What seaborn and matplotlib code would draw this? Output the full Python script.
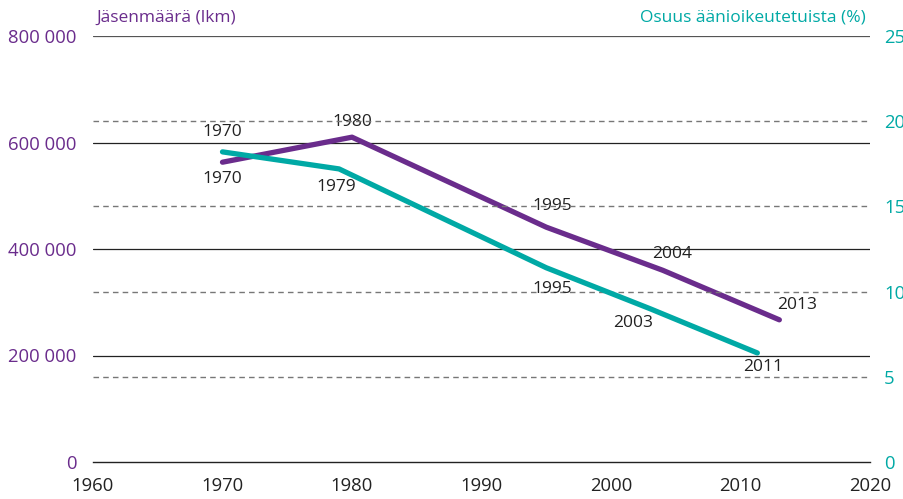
import seaborn as sns
import matplotlib.pyplot as plt
import pandas as pd

# Jäsenmäärä (lkm), vasen akseli
member_years = [1970, 1980, 1995, 2004, 2013]
members = [563000, 610000, 441000, 360000, 267000]
member_labels = ["1970", "1980", "1995", "2004", "2013"]

# Osuus äänioikeutetuista (%), oikea akseli
share_years = [1970, 1979, 1995, 2003, 2011.3]
share = [18.2, 17.2, 11.4, 9.0, 6.4]
share_labels = ["1970", "1979", "1995", "2003", "2011"]

left_ticks = [0, 200000, 400000, 600000, 800000]
left_ticklabels = ["0", "200 000", "400 000", "600 000", "800 000"]
right_ticks = [0, 5, 10, 15, 20, 25]
x_ticks = [1960, 1970, 1980, 1990, 2000, 2010, 2020]

purple = "#6a2c8c"
teal = "#00a9a5"

sns.set_style("white")
plt.rcParams["font.family"] = ["Open Sans", "DejaVu Sans"]

df_m = pd.DataFrame({"year": member_years, "value": members})
df_s = pd.DataFrame({"year": share_years, "value": share})

fig = plt.figure(figsize=(9.04, 4.99), dpi=100)
ax = fig.add_axes([93 / 904, 1 - 462 / 499, (870 - 93) / 904, (462 - 36) / 499])
ax2 = ax.twinx()

# grid lines
for t in left_ticks[1:]:
    ax.axhline(t, color="#555555" if t == 800000 else "#222222", lw=0.9, zorder=1)
for t in right_ticks[1:-1]:
    ax2.axhline(t, color="#777777", lw=1.0, ls=(0, (4, 3)), zorder=1)

sns.lineplot(data=df_m, x="year", y="value", ax=ax, color=purple, lw=3.8,
             solid_capstyle="round", zorder=3)
sns.lineplot(data=df_s, x="year", y="value", ax=ax2, color=teal, lw=3.8,
             solid_capstyle="round", zorder=3)

ax.set_xlim(1960, 2020)
ax.set_ylim(0, 800000)
ax2.set_ylim(0, 25)

# point labels
m_off = [(0, -12), (0, 11), (4, 15), (7, 11.5), (13, 11)]
for x, y, lab, off in zip(member_years, members, member_labels, m_off):
    ax.annotate(lab, (x, y), xytext=off, textcoords="offset points",
                ha="center", va="center", fontsize=12.5, color="#222222", zorder=5)
s_off = [(0, 14), (-2, -13), (4, -15), (-12, -10), (4, -10)]
for x, y, lab, off in zip(share_years, share, share_labels, s_off):
    ax2.annotate(lab, (x, y), xytext=off, textcoords="offset points",
                 ha="center", va="center", fontsize=12.5, color="#222222", zorder=5)

ax.set_xticks(x_ticks)
ax.set_yticks(left_ticks)
ax.set_yticklabels(left_ticklabels)
ax2.set_yticks(right_ticks)

ax.tick_params(axis="x", length=10, width=1, color="#222222", labelsize=13.3,
               labelcolor="#222222", pad=1, direction="out")
ax.tick_params(axis="y", length=0, labelsize=13.3, labelcolor=purple, pad=12)
ax2.tick_params(axis="y", length=0, labelsize=13.3, labelcolor=teal, pad=10)

for a in (ax, ax2):
    for s in ["top", "left", "right"]:
        a.spines[s].set_visible(False)
    a.set_xlabel("")
    a.set_ylabel("")
ax.spines["bottom"].set_color("#222222")
ax.spines["bottom"].set_linewidth(1)
ax2.spines["bottom"].set_visible(False)

fig.text(96 / 904, 1 - 18 / 499, "Jäsenmäärä (lkm)", color=purple,
         fontsize=12.5, ha="left", va="center")
fig.text(866 / 904, 1 - 18 / 499, "Osuus äänioikeutetuista (%)", color=teal,
         fontsize=12.5, ha="right", va="center")

fig.savefig("out.png", dpi=100)
